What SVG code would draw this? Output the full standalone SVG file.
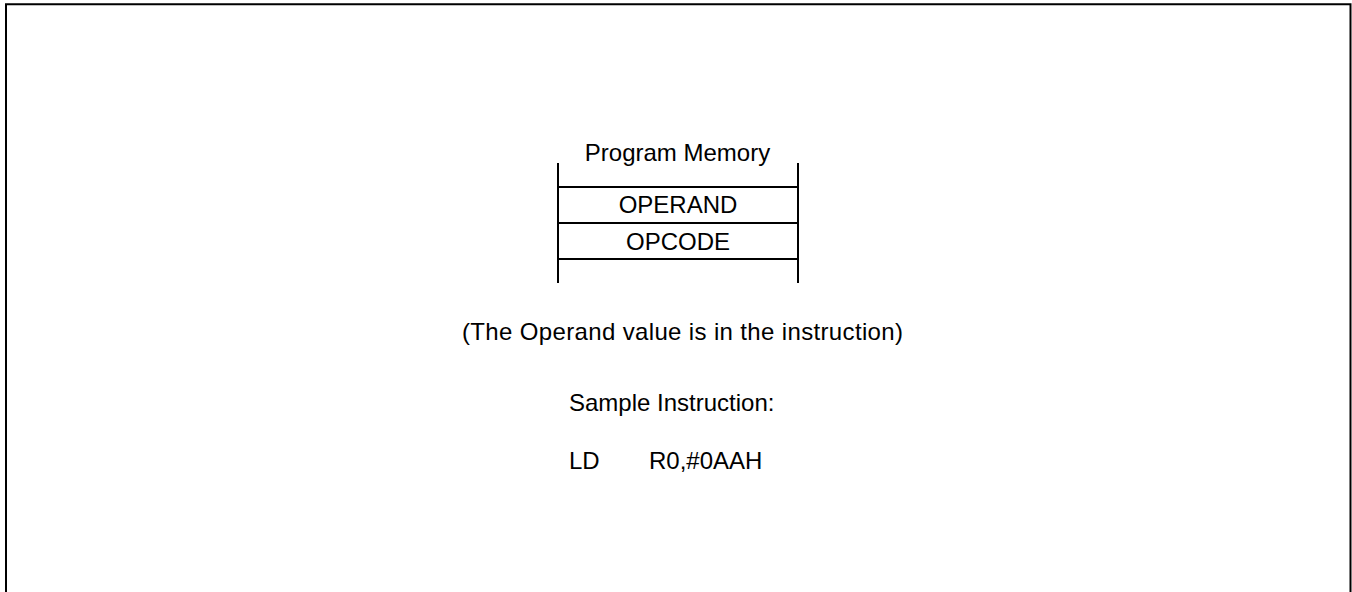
<svg xmlns="http://www.w3.org/2000/svg" width="1352" height="592" viewBox="0 0 1352 592">
<style>
text{font-family:"Liberation Sans",Arial,sans-serif;font-size:24px;fill:#000}
.ln{stroke:#000;stroke-width:2;fill:none}
.c{text-anchor:middle}
</style>
<rect width="1352" height="592" fill="#fff"/>
<path d="M6,592 V4.3 H1350.5 V592" fill="none" stroke="#000" stroke-width="2"/>
<g id="memory">
<text class="c" x="677.5" y="161">Program Memory</text>
<line class="ln" x1="558" y1="163" x2="558" y2="283"/>
<line class="ln" x1="798" y1="163" x2="798" y2="283"/>
<line class="ln" x1="558" y1="187" x2="798" y2="187"/>
<line class="ln" x1="558" y1="223" x2="798" y2="223"/>
<line class="ln" x1="558" y1="259" x2="798" y2="259"/>
</g>
<g id="operand"><text class="c" x="678" y="213">OPERAND</text></g>
<g id="opcode"><text class="c" x="678" y="250">OPCODE</text></g>
<g id="note"><text x="462" y="340" textLength="441" lengthAdjust="spacing">(The Operand value is in the instruction)</text></g>
<g id="sample">
<text x="569" y="411">Sample Instruction:</text>
<text x="569" y="469">LD</text>
<text x="649" y="469">R0,#0AAH</text>
</g>
</svg>
